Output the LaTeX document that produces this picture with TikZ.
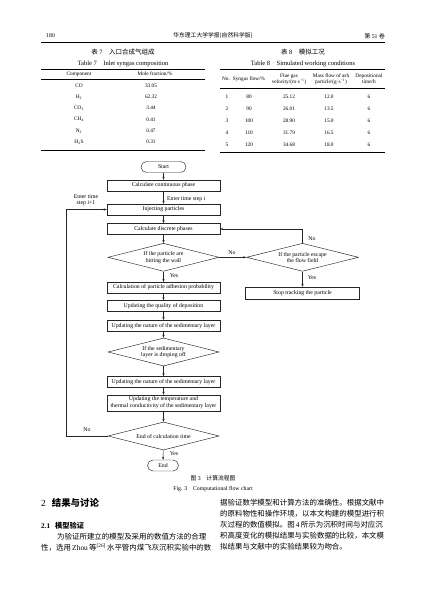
\documentclass[tikz,border=0pt]{standalone}
\usepackage{fontspec}
\setmainfont{Liberation Serif}
\newfontfamily\cjk{Noto Sans CJK SC}
\usetikzlibrary{shapes.geometric,arrows.meta}
\newcommand\fsz[2]{\fontsize{#1}{#2}\selectfont}
\begin{document}
\begin{tikzpicture}[x=1pt,y=-1pt,
  ln/.style={draw=black!85, line width=0.45pt},
  box/.style={ln, rectangle, minimum width=113pt, minimum height=11pt, inner sep=0pt, font=\fsz{5.8}{6.8}, align=center},
  dia/.style={ln, diamond, aspect=4, minimum width=111pt, minimum height=28pt, inner sep=0pt, font=\fsz{5.8}{6.6}, align=center},
  oval/.style={ln, rectangle, rounded corners=5.5pt, minimum height=11pt, inner sep=0pt, font=\fsz{5.8}{6.8}},
  arr/.style={ln, -{Stealth[length=3pt,width=2.2pt]}},
  lab/.style={font=\fsz{5.8}{6.4}, inner sep=0pt, align=center},
  hd/.style={font=\fsz{5.8}{6.8}, inner sep=0pt},
  tt/.style={font=\fsz{6.5}{7.5}, inner sep=0pt},
  tb/.style={font=\fsz{5.3}{6.2}, inner sep=0pt, align=center},
  figcap/.style={font=\fsz{5.8}{6.8}, inner sep=0pt},
  para/.style={font=\fsz{7.45}{8.5}, inner sep=0pt, anchor=west},
  thickrule/.style={line width=0.8pt},
  thinrule/.style={line width=0.4pt}]
\useasboundingbox[fill=white] (0,0) rectangle (427,603);

% ---------- page header ----------
\node[hd, anchor=west] (pg) at (46,36) {180};
\node[hd] (jn) at (213,36) {\cjk 华东理工大学学报(自然科学版)};
\node[hd, anchor=east] (vol) at (385,36) {{\cjk 第} 51 {\cjk 卷}};
\draw[line width=0.5pt] (41,42) -- (385,42);

% ---------- Table 7 ----------
\node[tt] (t7c) at (123,52) {{\cjk 表} 7\quad{\cjk 入口合成气组成}};
\node[tt] (t7e) at (123,64) {Table 7\quad Inlet syngas composition};
\draw[thickrule] (41,69) -- (205,69);
\draw[thinrule] (41,79) -- (205,79);
\draw[thickrule] (41,150) -- (205,150);
\node[tb] (t7h1) at (79,74) {Component};
\node[tb] (t7h2) at (155,74) {Mole fraction/\%};
\node[tb] (c1) at (79,86) {CO};
\node[tb] (v1) at (151,86) {33.05};
\node[tb] (c2) at (79,97) {H\textsubscript{2}};
\node[tb] (v2) at (151,97) {62.32};
\node[tb] (c3) at (79,108) {CO\textsubscript{2}};
\node[tb] (v3) at (151,108) {3.44};
\node[tb] (c4) at (79,119.5) {CH\textsubscript{4}};
\node[tb] (v4) at (151,119.5) {0.41};
\node[tb] (c5) at (79,131) {N\textsubscript{2}};
\node[tb] (v5) at (151,131) {0.47};
\node[tb] (c6) at (79,142) {H\textsubscript{2}S};
\node[tb] (v6) at (151,142) {0.31};

% ---------- Table 8 ----------
\node[tt] (t8c) at (303,52) {{\cjk 表} 8\quad{\cjk 模拟工况}};
\node[tt] (t8e) at (303,63.5) {Table 8\quad Simulated working conditions};
\draw[thickrule] (220,69) -- (385,69);
\draw[thinrule] (220,88.5) -- (385,88.5);
\draw[thickrule] (220,152) -- (385,152);
\node[tb] (h1) at (226,79) {No.};
\node[tb] (h2) at (249,79) {Syngas flow/\%};
\node[tb] (h3) at (289,79) {Flue gas\\velocity/(m·s\textsuperscript{−1})};
\node[tb] (h4) at (331,79) {Mass flow of ash\\particle/(g·s\textsuperscript{−1})};
\node[tb] (h5) at (369,79) {Depositional\\time/h};
\foreach \n/\a/\b/\c/\yy in {1/80/25.12/12.0/97, 2/90/26.01/13.5/109, 3/100/28.90/15.0/121, 4/110/31.79/16.5/133, 5/120/34.68/18.0/144.5}{
  \node[tb] (r\n a) at (227,\yy) {\n};
  \node[tb] (r\n b) at (249,\yy) {\a};
  \node[tb] (r\n c) at (289,\yy) {\b};
  \node[tb] (r\n d) at (329,\yy) {\c};
  \node[tb] (r\n e) at (369,\yy) {6};
}

% ---------- flow chart ----------
\node[oval, minimum width=45pt] (start) at (163.5,167) {Start};
\node[box] (cont) at (163.5,185.5) {Calculate continuous phase};
\node[box] (inj) at (163.5,209.5) {Injecting particles};
\node[box] (disc) at (163.5,229) {Calculate discrete phases};
\node[dia] (d1) at (163.5,257.3) {If the particle are\\hitting the wall};
\node[dia, minimum width=112pt] (d2) at (302.5,257.3) {If the particle escape\\the flow field};
\node[box, minimum width=114pt, minimum height=12pt] (stop) at (302.5,293) {Stop tracking the particle};
\node[box, minimum height=10.5pt] (adh) at (163.5,287.5) {Calculation of particle adhesion probability};
\node[box, minimum height=10.5pt] (qual) at (163.5,305.7) {Updating the quality of deposition};
\node[box] (nat1) at (163.5,325.8) {Updating the nature of the sedimentary layer};
\node[dia] (d3) at (163.5,352) {If the sedimentary\\layer is droping off};
\node[box, minimum height=10.5pt] (nat2) at (163.5,381.7) {Updating the nature of the sedimentary layer};
\node[box, minimum height=16pt] (temp) at (163.5,403) {Updating the temperature and\\thermal conductivity of the sedimentary layer};
\node[dia] (d4) at (163.5,436) {End of calculation time};
\node[oval, minimum width=31pt, minimum height=11pt] (end) at (163,465.5) {End};
\coordinate (lx) at (66,0);

\draw[arr] (start) -- (cont);
\draw[arr] (cont) -- (inj);
\draw[arr] (inj) -- (disc);
\draw[arr] (disc) -- (d1);
\draw[arr] (d1) -- (adh);
\draw[arr] (adh) -- (qual);
\draw[arr] (qual) -- (nat1);
\draw[arr] (nat1) -- (d3);
\draw[arr] (d3) -- (nat2);
\draw[arr] (nat2) -- (temp);
\draw[arr] (temp) -- (d4);
\draw[arr] (d4) -- (end);
\draw[arr] (d1.east) -- (d2.west);
\draw[arr] (d2) -- (stop);
\draw[arr] (d2.north) |- (disc.east);
\draw[arr] (d4.west) -- (d4.west -| lx) -- (inj.west -| lx) -- (inj.west);

\node[lab, anchor=west] (lt1) at (167,199) {Enter time step \textit{i}};
\node[lab] (lt2) at (86,200) {Enter time\\step \textit{i}+1};
\node[lab] (lno1) at (232,253) {No};
\node[lab] (lno2) at (312,239) {No};
\node[lab] (lyes2) at (312,278) {Yes};
\node[lab] (lyes1) at (174,276) {Yes};
\node[lab] (lno3) at (87,430) {No};
\node[lab] (lyes3) at (174,454) {Yes};

% ---------- caption ----------
\node[figcap] (capc) at (213,478) {{\cjk 图} 3\quad{\cjk 计算流程图}};
\node[figcap] (cape) at (213,489) {Fig. 3\quad Computational flow chart};

% ---------- text ----------
\node[anchor=west, inner sep=0pt, font=\fsz{9.4}{11}] (sec) at (41,503) {2\hspace{6pt}{\cjk\bfseries 结果与讨论}};
\node[anchor=west, inner sep=0pt, font=\fsz{7.2}{8.5}] (subsec) at (41,526) {\bfseries 2.1\hspace{5pt}{\cjk 模型验证}};
\node[para] (pl1) at (57,537) {\cjk 为验证所建立的模型及采用的数值方法的合理};
\node[para] (pl2) at (41,548) {{\cjk 性，选用}\,Zhou\,{\cjk 等}\textsuperscript{[26]}\,{\cjk 水平管内煤飞灰沉积实验中的数}};
\node[para] (pr1) at (220,503) {\cjk 据验证数学模型和计算方法的准确性。根据文献中};
\node[para] (pr2) at (220,514) {\cjk 的原料物性和操作环境，以本文构建的模型进行积};
\node[para] (pr3) at (220,525) {{\cjk 灰过程的数值模拟。图}\,4\,{\cjk 所示为沉积时间与对应沉}};
\node[para] (pr4) at (220,536) {\cjk 积高度变化的模拟结果与实验数据的比较，本文模};
\node[para] (pr5) at (220,547) {\cjk 拟结果与文献中的实验结果较为吻合。};
\end{tikzpicture}
\end{document}
